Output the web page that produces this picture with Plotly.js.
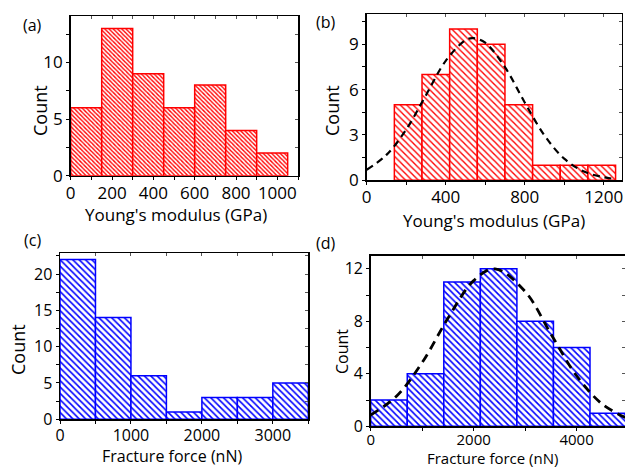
<!DOCTYPE html>
<html><head><meta charset="utf-8">
<script src="https://cdn.plot.ly/plotly-3.0.1.min.js"></script>
<style>html,body{margin:0;padding:0;background:#fff}#plot{width:625px;height:468px}</style>
</head><body><div id="plot"></div>
<script>
// (a) Young's modulus histogram
const binA = [0, 150, 300, 450, 600, 750, 900];
const countA = [6, 13, 9, 6, 8, 4, 2];
const widthA = 150;
// (b) Young's modulus histogram + fit
const binB = [140, 280, 420, 560, 700, 840, 980, 1120];
const countB = [5, 7, 10, 9, 5, 1, 1, 1];
const widthB = 140;
const fitBx = [0, 100, 200, 300, 400, 500, 540, 600, 700, 800, 900, 1000, 1100, 1200, 1260];
const fitBy = [0.7, 1.68, 3.36, 5.63, 7.9, 9.27, 9.4, 9.1, 7.48, 5.15, 2.97, 1.43, 0.58, 0.2, 0.09];
// (c) Fracture force histogram
const binC = [0, 500, 1000, 1500, 2000, 2500, 3000];
const countC = [22, 14, 6, 1, 3, 3, 5];
const widthC = 500;
// (d) Fracture force histogram + fit
const binD = [0, 710, 1420, 2130, 2840, 3550, 4260];
const countD = [2, 4, 11, 12, 8, 6, 1];
const widthD = 710;
const fitDx = [0, 500, 1000, 1500, 2000, 2414, 3000, 3500, 4000, 4500, 4970];
const fitDy = [0.86, 2.29, 4.86, 8.23, 11.1, 12, 10.27, 7.04, 3.85, 1.68, 0.63];

const xTitleA = "Young's modulus (GPa)";
const xTitleC = "Fracture force (nN)";
const yTitle = "Count";
const panelLabels = ["(a)", "(b)", "(c)", "(d)"];

const W = 625, H = 468;
const FONT = "Open Sans, DejaVu Sans, sans-serif";
const RED = "#ff0000", BLUE = "#0000ff";

function px2x(a, b) { return [a / W, b / W]; }
function px2y(top, bot) { return [1 - bot / H, 1 - top / H]; }

function barTrace(bins, counts, width, color, xa, ya, psize, sol) {
  return {
    type: "bar", x: bins, y: counts, width: width, offset: 0,
    xaxis: xa, yaxis: ya,
    marker: {
      color: "#ffffff",
      line: { color: color, width: 1.5 },
      pattern: { shape: "\\", fgcolor: color, bgcolor: "#ffffff", size: psize, solidity: sol }
    },
    showlegend: false, hoverinfo: "skip"
  };
}
function fitTrace(xs, ys, xa, ya, dash, w) {
  return {
    type: "scatter", mode: "lines", x: xs, y: ys, xaxis: xa, yaxis: ya,
    line: { color: "#000", width: w, dash: dash, shape: "spline" },
    showlegend: false, hoverinfo: "skip"
  };
}
function dummy(xa, ya) {
  return { type: "scatter", mode: "markers", x: [null], y: [null], xaxis: xa, yaxis: ya, showlegend: false, hoverinfo: "skip" };
}

const traces = [
  barTrace(binA, countA, widthA, RED, "x", "y", 3, 0.45),
  barTrace(binB, countB, widthB, RED, "x2", "y2", 4.5, 0.3),
  fitTrace(fitBx, fitBy, "x2", "y2", "7px,5px", 2.2),
  barTrace(binC, countC, widthC, BLUE, "x3", "y3", 4.5, 0.35),
  barTrace(binD, countD, widthD, BLUE, "x4", "y4", 4.5, 0.35),
  fitTrace(fitDx, fitDy, "x4", "y4", "9px,6px", 2.8),
  dummy("x5", "y5"), dummy("x6", "y6"), dummy("x7", "y7"), dummy("x8", "y8")
];

function mainAx(domain, anchor, range, dtick, minor, fsize, standoff) {
  const ax = {
    domain: domain, anchor: anchor, range: range, dtick: dtick, tick0: 0,
    showline: true, mirror: true, linecolor: "#000", linewidth: 1.5,
    ticks: "outside", ticklen: 3, tickwidth: 1, tickcolor: "#000",
    minor: { dtick: minor, ticks: "outside", ticklen: 3, tickcolor: "#000" },
    showgrid: false, zeroline: false, tickfont: { family: FONT, size: fsize, color: "#000" },
    automargin: false, fixedrange: true
  };
  if (standoff !== undefined) ax.ticklabelstandoff = standoff;
  return ax;
}
function overX(base, anchor, range, dtick) {
  return { overlaying: base, anchor: anchor, side: "top", range: range, dtick: dtick, tick0: 0,
    ticks: "inside", ticklen: 3, tickcolor: "#555", showticklabels: false, showline: false,
    showgrid: false, zeroline: false, fixedrange: true };
}
function overY(base, anchor, range, dtick) {
  return { overlaying: base, anchor: anchor, side: "right", range: range, dtick: dtick, tick0: 0,
    ticks: "inside", ticklen: 3, tickcolor: "#555", showticklabels: false, showline: false,
    showgrid: false, zeroline: false, fixedrange: true };
}

const rA = [0, 1100], rAy = [0, 14.1];
const rB = [0, 1291], rBy = [0, 11];
const rC = [0, 3500], rCy = [0, 22.85];
const rD = [0, 4940], rDy = [0, 13];

function ann(text, x, y, size, angle) {
  return { text: text, x: x / W, y: 1 - y / H, xref: "paper", yref: "paper", showarrow: false,
    xanchor: "center", yanchor: "middle", textangle: angle || 0, borderpad: 0,
    font: { family: FONT, size: size, color: "#000" } };
}

const layout = {
  width: W, height: H, margin: { l: 0, r: 0, t: 0, b: 0 },
  paper_bgcolor: "#fff", plot_bgcolor: "rgba(0,0,0,0)",
  font: { family: FONT, color: "#000" },
  bargap: 0,
  xaxis: mainAx(px2x(70.7, 298), "y", rA, 200, 100, 17, -2),
  yaxis: mainAx(px2y(16, 175.7), "x", rAy, 5, 2.5, 17),
  xaxis2: mainAx(px2x(366.7, 621.7), "y2", rB, 400, 200, 17, -2),
  yaxis2: mainAx(px2y(14, 180.3), "x2", rBy, 3, 1.5, 17),
  xaxis3: mainAx(px2x(60, 308.3), "y3", rC, 1000, 500, 16, -2),
  yaxis3: mainAx(px2y(253.3, 419.3), "x3", rCy, 5, 2.5, 16),
  xaxis4: mainAx(px2x(370.7, 625), "y4", rD, 2000, 1000, 15, -4),
  yaxis4: mainAx(px2y(255.7, 426.3), "x4", rDy, 4, 2, 16),
  xaxis5: overX("x", "y5", rA, 100), yaxis5: overY("y", "x5", rAy, 2.5),
  xaxis6: overX("x2", "y6", rB, 200), yaxis6: overY("y2", "x6", rBy, 1.5),
  xaxis7: overX("x3", "y7", rC, 500), yaxis7: overY("y3", "x7", rCy, 2.5),
  xaxis8: overX("x4", "y8", rD, 1000), yaxis8: overY("y4", "x8", rDy, 2),
  annotations: [
    ann(panelLabels[0], 32, 25, 16), ann(panelLabels[1], 326, 22, 16),
    ann(panelLabels[2], 32, 240, 16), ann(panelLabels[3], 326, 243, 16),
    ann(xTitleA, 176, 215, 17), ann(xTitleA, 494, 220, 17),
    ann(xTitleC, 172, 456, 16), ann(xTitleC, 492, 458, 15),
    ann(yTitle, 40, 111, 18, -90), ann(yTitle, 332, 111, 18, -90),
    ann(yTitle, 18, 350, 18, -90), ann(yTitle, 342, 352, 16, -90)
  ]
};

Plotly.newPlot("plot", traces, layout, { staticPlot: true, displayModeBar: false });
</script></body></html>
